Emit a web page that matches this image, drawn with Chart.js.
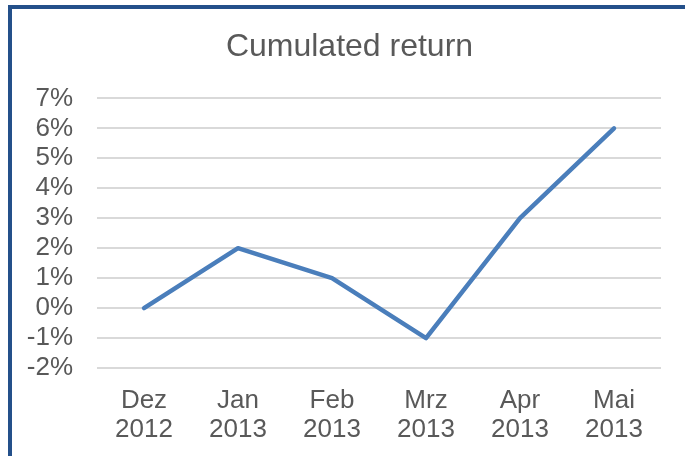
<!DOCTYPE html>
<html>
<head>
<meta charset="utf-8">
<script src="https://cdn.jsdelivr.net/npm/chart.js@4"></script>
<style>
    body { margin: 0; background: white; }
    #caixa { position: relative; width: 685px; height: 456px; overflow: hidden; background: white; }
    #moldura { position: absolute; left: 8px; top: 5px; width: 720px; height: 520px;
               border-left: 4px solid #24508a; border-top: 4px solid #24508a; }
    #grafico { position: absolute; left: 0; top: 0; }
</style>
</head>
<body>
<div id="caixa">
    <div id="moldura"></div>
    <canvas id="grafico" width="685" height="456"></canvas>
</div>
<script>
const meses = ['Dez', 'Jan', 'Feb', 'Mrz', 'Apr', 'Mai'];
const anos = ['2012', '2013', '2013', '2013', '2013', '2013'];
const retorno = [0, 2, 1, -1, 3, 6];   // em %
const y_min = -2;
const y_max = 7;

const cinza = '#595959';
const fonte = '"Liberation Sans", Arial, sans-serif';

const labels = meses.map(function (m, i) { return [m, anos[i]]; });

const data = {
    labels: labels,
    datasets: [{
        label: 'Cumulated return',
        data: retorno,
        borderColor: '#4a7ebb',
        backgroundColor: '#4a7ebb',
        borderWidth: 4.5,
        borderCapStyle: 'round',
        borderJoinStyle: 'round',
        pointRadius: 0,
        tension: 0,
        fill: false
    }]
};

const config = {
    type: 'line',
    data: data,
    options: {
        responsive: false,
        animation: false,
        layout: { padding: { left: 14, right: 0, top: 0, bottom: 0 } },
        plugins: {
            legend: { display: false },
            tooltip: { enabled: false },
            title: {
                display: true,
                text: 'Cumulated return',
                color: cinza,
                font: { family: fonte, size: 32, weight: 'normal', lineHeight: 1.2 },
                padding: { top: 28, bottom: 32 }
            }
        },
        scales: {
            x: {
                offset: true,
                grid: { display: false, drawTicks: false },
                border: { display: false },
                ticks: {
                    color: cinza,
                    padding: 18,
                    maxRotation: 0,
                    autoSkip: false,
                    font: { family: fonte, size: 26, lineHeight: 1.12 }
                },
                afterFit: function (scale) { scale.height = 88; }
            },
            y: {
                min: y_min,
                max: y_max,
                grid: { color: '#d9d9d9', lineWidth: 2, drawTicks: false },
                border: { display: false },
                ticks: {
                    stepSize: 1,
                    autoSkip: false,
                    color: cinza,
                    padding: 24,
                    font: { family: fonte, size: 26 },
                    callback: function (v) { return v + '%'; }
                },
                afterFit: function (scale) { scale.width = 83; }
            },
            // eixo vazio so para dar a margem da direita
            margem: {
                position: 'right',
                grid: { display: false },
                border: { display: false },
                ticks: { display: false },
                afterFit: function (scale) { scale.width = 24; }
            }
        }
    }
};

const myChart = new Chart(document.getElementById('grafico'), config);
</script>
</body>
</html>
